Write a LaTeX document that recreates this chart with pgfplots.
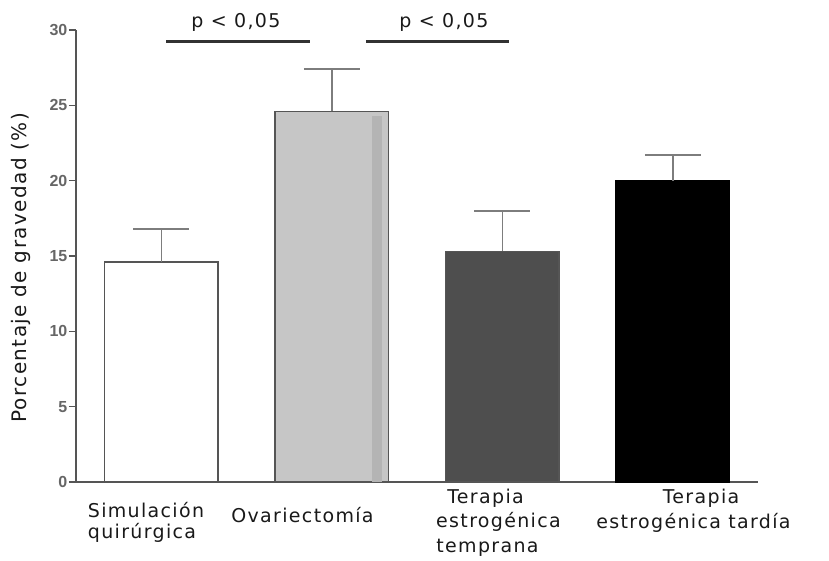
\documentclass[border=0pt]{standalone}
\usepackage{pgfplots}
\pgfplotsset{compat=1.18}
\usepackage{fontspec}
\setmainfont{DejaVu Sans}
\newfontfamily\labfont[LetterSpace=7]{DejaVu Sans}
\newfontfamily\tickfont{Liberation Sans}

\definecolor{axisgray}{RGB}{85,85,85}
\definecolor{errgray}{RGB}{125,125,125}
\definecolor{ovxgray}{RGB}{198,198,198}
\definecolor{ovxstripe}{RGB}{180,180,180}
\definecolor{tempgray}{RGB}{78,78,78}
\definecolor{txt}{RGB}{25,25,25}
\definecolor{sigcol}{RGB}{50,50,50}

\pgfplotsset{
  errstyle/.style={
    error bars/.cd,
      y dir=plus, y explicit,
      error mark=-,
      error mark options={rotate=90, mark size=28pt, line width=1.5pt, draw=errgray},
      error bar style={line width=1.5pt, draw=errgray},
  },
}

\newcommand\lab{\labfont\fontsize{19}{22}\selectfont}

\begin{document}
\begin{tikzpicture}[x=1pt,y=1pt]
\path[use as bounding box] (0,0) rectangle (829,-561);
\begin{axis}[
  at={(76pt,-482pt)}, anchor=south west,
  scale only axis, width=682pt, height=452pt,
  xmin=-0.5, xmax=3.5, ymin=0, ymax=30,
  axis x line=bottom, axis y line=left,
  axis line style={-, draw=axisgray, line width=1.3pt},
  xtick=\empty,
  ytick={0,5,...,30},
  tick align=outside, major tick length=7pt,
  y tick style={draw=axisgray, line width=1.3pt},
  /pgf/number format/assume math mode=true,
  yticklabel style={font=\tickfont\bfseries\fontsize{16}{16}\selectfont, text=black!60, inner sep=1.5pt},
  ybar, bar width=0.665, clip=false,
]
% Simulación quirúrgica
\addplot[fill=white, draw=axisgray, line width=1.3pt, bar shift=0, errstyle]
  coordinates {(0,14.6) +- (0,2.2)};
% Ovariectomía
\addplot[fill=ovxgray, draw=axisgray, line width=1.3pt, bar shift=0, errstyle]
  coordinates {(1,24.6) +- (0,2.8)};
\addplot[fill=ovxstripe, draw=none, bar width=0.06, bar shift=0.266]
  coordinates {(1,24.3)};
% Terapia estrogénica temprana
\addplot[fill=tempgray, draw=axisgray, line width=1.3pt, bar shift=0, errstyle]
  coordinates {(2,15.3) +- (0,2.7)};
% Terapia estrogénica tardía
\addplot[fill=black, draw=black, line width=1.3pt, bar shift=0, errstyle]
  coordinates {(3,20.0) +- (0,1.7)};

% significance brackets
\draw[line width=2.6pt, draw=sigcol] (axis cs:0.03,29.25) -- (axis cs:0.87,29.25);
\draw[line width=2.6pt, draw=sigcol] (axis cs:1.20,29.25) -- (axis cs:2.04,29.25);
\end{axis}

\begin{scope}[every node/.style={text=txt, inner sep=0pt, anchor=base, font=\lab}]
  \node at (236,-28) {p < 0,05};
  \node at (444,-28) {p < 0,05};

  \node[font=\labfont\fontsize{20}{22}\selectfont, rotate=90] at (27,-268) {Porcentaje de gravedad (\%)};

  \node at (146,-517) {Simulación};
  \node at (142,-538) {quirúrgica};
  \node at (302.5,-522) {Ovariectomía};
  \node at (485.5,-503) {Terapia};
  \node at (498.5,-527) {estrogénica};
  \node at (487.5,-552) {temprana};
  \node at (701,-503) {Terapia};
  \node at (693.5,-528) {estrogénica tardía};
\end{scope}
\end{tikzpicture}
\end{document}
